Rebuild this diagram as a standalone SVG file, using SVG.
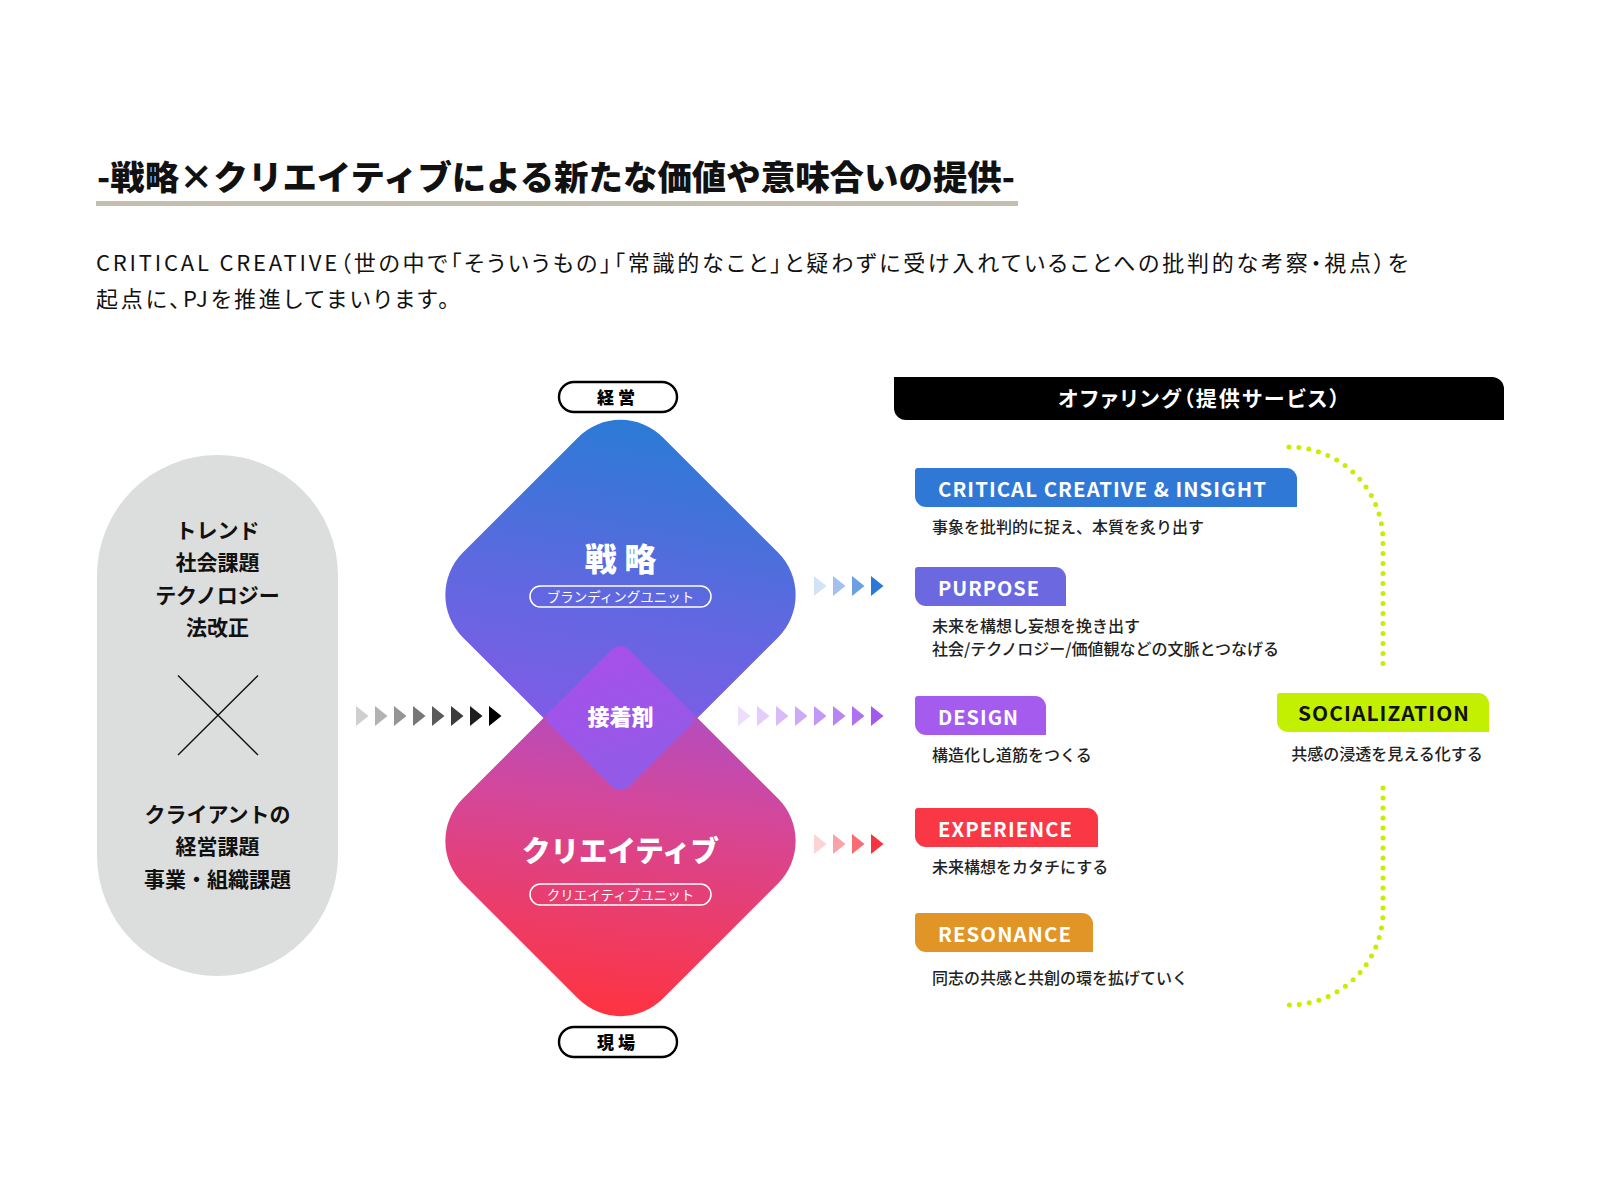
<svg xmlns="http://www.w3.org/2000/svg" width="1600" height="1200" viewBox="0 0 1600 1200">
<defs>
<style>
text{font-family:"Noto Sans CJK JP","Noto Sans",sans-serif;}
.b{font-weight:700;}
.blk{font-weight:900;}
.palt{font-feature-settings:"palt" 1;}
.pill{fill:#fff;stroke:#000;stroke-width:2.4;}
.upill{fill:none;stroke:#fff;stroke-width:1.5;}
.tagt{font-weight:700;font-size:20px;fill:#fff;letter-spacing:1px;}
.desc{font-size:16px;font-weight:500;fill:#222;}
.left{font-size:21px;font-weight:700;fill:#111;text-anchor:middle;}
.dot{fill:none;stroke:#c6ef00;stroke-width:5;stroke-linecap:round;stroke-dasharray:0 10;}
</style>
<linearGradient id="gTop" x1="0.58" y1="0" x2="0.4" y2="1">
<stop offset="0" stop-color="#2a7bd5"/>
<stop offset="0.5" stop-color="#5f68e0"/>
<stop offset="1" stop-color="#8a58e8"/>
</linearGradient>
<linearGradient id="gBot" x1="0.55" y1="0" x2="0.45" y2="1">
<stop offset="0" stop-color="#a64fce"/>
<stop offset="0.4" stop-color="#d4479a"/>
<stop offset="1" stop-color="#ff3340"/>
</linearGradient>
<linearGradient id="gMid" x1="0.3" y1="0" x2="0.7" y2="1">
<stop offset="0" stop-color="#a84fea"/>
<stop offset="1" stop-color="#8f5ce6"/>
</linearGradient>
<path id="tri" d="M0,-10 L12.5,0 L0,10 Z"/>
</defs>
<rect width="1600" height="1200" fill="#fff"/>

<g id="title">
<text x="97" y="189.5" font-size="34" class="blk" fill="#111" textLength="918" lengthAdjust="spacingAndGlyphs">-戦略×クリエイティブによる新たな価値や意味合いの提供-</text>
<rect x="96" y="201" width="922" height="5" fill="#c5bdae"/>
</g>

<g id="intro" fill="#111" font-size="22" class="palt">
<text x="96" y="271" textLength="1312" lengthAdjust="spacing">CRITICAL CREATIVE（世の中で「そういうもの」「常識的なこと」と疑わずに受け入れていることへの批判的な考察・視点）を</text>
<text x="96" y="307" textLength="353" lengthAdjust="spacing">起点に、PJを推進してまいります。</text>
</g>

<g id="context">
<rect x="97" y="455" width="241" height="521" rx="120.5" fill="#dcdddd"/>
<text class="left" x="217.5" y="538">トレンド</text>
<text class="left" x="217.5" y="570">社会課題</text>
<text class="left" x="217.5" y="603">テクノロジー</text>
<text class="left" x="217.5" y="635">法改正</text>
<path d="M178,675.5 L258,755 M258,675.5 L178,755" stroke="#111" stroke-width="1.4" fill="none"/>
<text class="left" x="217.5" y="822">クライアントの</text>
<text class="left" x="217.5" y="854">経営課題</text>
<text class="left" x="217.5" y="887">事業・組織課題</text>
</g>

<g id="label-keiei">
<rect class="pill" x="559" y="382" width="118" height="30" rx="15"/>
<text x="618" y="403.5" font-size="17" class="blk" text-anchor="middle" fill="#000" letter-spacing="4">経営</text>
</g>

<g id="diamond-senryaku">
<path d="M578.07,437.43 A60,60 0 0 1 662.93,437.43 L778.07,552.57 A60,60 0 0 1 778.07,637.43 L662.93,752.57 A60,60 0 0 1 578.07,752.57 L462.93,637.43 A60,60 0 0 1 462.93,552.57 Z" fill="url(#gTop)"/>
<text x="620.5" y="571" font-size="32" class="blk" fill="#fff" text-anchor="middle">戦 略</text>
<rect class="upill" x="530" y="586" width="181" height="21" rx="10.5"/>
<text x="620.5" y="601.5" font-size="13.5" fill="#fff" text-anchor="middle">ブランディングユニット</text>
</g>

<g id="diamond-creative">
<path d="M578.07,683.43 A60,60 0 0 1 662.93,683.43 L778.07,798.57 A60,60 0 0 1 778.07,883.43 L662.93,998.57 A60,60 0 0 1 578.07,998.57 L462.93,883.43 A60,60 0 0 1 462.93,798.57 Z" fill="url(#gBot)"/>
<text x="620.5" y="862" font-size="29" class="blk" fill="#fff" text-anchor="middle" textLength="197" lengthAdjust="spacingAndGlyphs">クリエイティブ</text>
<rect class="upill" x="530" y="884" width="181" height="21" rx="10.5"/>
<text x="620.5" y="899.5" font-size="13.5" fill="#fff" text-anchor="middle">クリエイティブユニット</text>
</g>

<g id="diamond-glue">
<path d="M612.01,649.49 A12,12 0 0 1 628.99,649.49 L692,712.5 A8,8 0 0 1 692,723.5 L628.99,786.51 A12,12 0 0 1 612.01,786.51 L549,723.5 A8,8 0 0 1 549,712.5 Z" fill="url(#gMid)"/>
<text x="620.5" y="725" font-size="22" class="blk" fill="#fff" text-anchor="middle">接着剤</text>
</g>

<g id="label-genba">
<rect class="pill" x="559" y="1027" width="118" height="30" rx="15"/>
<text x="618" y="1048.5" font-size="17" class="blk" text-anchor="middle" fill="#000" letter-spacing="4">現場</text>
</g>

<g id="connectors">
<g id="arrows-gray">
<use href="#tri" x="356" y="716" fill="#cfcfcf"/>
<use href="#tri" x="375" y="716" fill="#b2b2b2"/>
<use href="#tri" x="394" y="716" fill="#959595"/>
<use href="#tri" x="413" y="716" fill="#777777"/>
<use href="#tri" x="432" y="716" fill="#5a5a5a"/>
<use href="#tri" x="451" y="716" fill="#3c3c3c"/>
<use href="#tri" x="470" y="716" fill="#1e1e1e"/>
<use href="#tri" x="489" y="716" fill="#000000"/>
</g>
<g id="arrows-blue">
<use href="#tri" x="814" y="586" fill="#d3e3f6"/>
<use href="#tri" x="833" y="586" fill="#a0c2ec"/>
<use href="#tri" x="852" y="586" fill="#6aa0e1"/>
<use href="#tri" x="871" y="586" fill="#2b78d6"/>
</g>
<g id="arrows-purple">
<use href="#tri" x="738" y="716" fill="#eddefc"/>
<use href="#tri" x="757" y="716" fill="#e3cdfa"/>
<use href="#tri" x="776" y="716" fill="#d8bbf8"/>
<use href="#tri" x="795" y="716" fill="#cea9f6"/>
<use href="#tri" x="814" y="716" fill="#c397f4"/>
<use href="#tri" x="833" y="716" fill="#b985f2"/>
<use href="#tri" x="852" y="716" fill="#ae72f0"/>
<use href="#tri" x="871" y="716" fill="#a458ee"/>
</g>
<g id="arrows-red">
<use href="#tri" x="814" y="844" fill="#fdd3d5"/>
<use href="#tri" x="833" y="844" fill="#fca1a6"/>
<use href="#tri" x="852" y="844" fill="#fb6b72"/>
<use href="#tri" x="871" y="844" fill="#f9323f"/>
</g>
<path class="dot" d="M1289,447 A94,94 0 0 1 1383,541 L1383,665"/>
<path class="dot" d="M1383,788 L1383,911 A94,94 0 0 1 1289,1005"/>
</g>

<g id="offering-header">
<path d="M894,377 L1492,377 A12,12 0 0 1 1504,389 L1504,420 L906,420 A12,12 0 0 1 894,408 Z" fill="#000"/>
<text x="1058" y="406" font-size="21" class="b palt" fill="#fff" textLength="282" lengthAdjust="spacing">オファリング（提供サービス）</text>
</g>

<g id="offer-insight">
<path d="M918,468 L1286,468 A11,11 0 0 1 1297,479 L1297,507 L926,507 A11,11 0 0 1 915,496 L915,471 A3,3 0 0 1 918,468 Z" fill="#2f78d6"/>
<text class="tagt" x="938" y="496.5" textLength="329" lengthAdjust="spacingAndGlyphs">CRITICAL CREATIVE &amp; INSIGHT</text>
<text class="desc" x="932" y="533">事象を批判的に捉え、本質を炙り出す</text>
</g>

<g id="offer-purpose">
<path d="M918,567 L1055,567 A11,11 0 0 1 1066,578 L1066,606 L926,606 A11,11 0 0 1 915,595 L915,570 A3,3 0 0 1 918,567 Z" fill="#6b68e0"/>
<text class="tagt" x="938" y="595.5" textLength="102" lengthAdjust="spacingAndGlyphs">PURPOSE</text>
<text class="desc" x="932" y="631.5">未来を構想し妄想を挽き出す</text>
<text class="desc" x="932" y="655">社会/テクノロジー/価値観などの文脈とつなげる</text>
</g>

<g id="offer-design">
<path d="M918,696 L1035,696 A11,11 0 0 1 1046,707 L1046,735 L926,735 A11,11 0 0 1 915,724 L915,699 A3,3 0 0 1 918,696 Z" fill="#a55bee"/>
<text class="tagt" x="938" y="724.5" textLength="81" lengthAdjust="spacingAndGlyphs">DESIGN</text>
<text class="desc" x="932" y="761">構造化し道筋をつくる</text>
</g>

<g id="offer-experience">
<path d="M918,808 L1087,808 A11,11 0 0 1 1098,819 L1098,847 L926,847 A11,11 0 0 1 915,836 L915,811 A3,3 0 0 1 918,808 Z" fill="#fa3744"/>
<text class="tagt" x="938" y="836.5" textLength="135" lengthAdjust="spacingAndGlyphs">EXPERIENCE</text>
<text class="desc" x="932" y="873">未来構想をカタチにする</text>
</g>

<g id="offer-resonance">
<path d="M918,913 L1082,913 A11,11 0 0 1 1093,924 L1093,952 L926,952 A11,11 0 0 1 915,941 L915,916 A3,3 0 0 1 918,913 Z" fill="#e09526"/>
<text class="tagt" x="938" y="941.5" textLength="134" lengthAdjust="spacingAndGlyphs">RESONANCE</text>
<text class="desc" x="932" y="983.5">同志の共感と共創の環を拡げていく</text>
</g>

<g id="offer-socialization">
<path d="M1280,693 L1478,693 A11,11 0 0 1 1489,704 L1489,732 L1288,732 A11,11 0 0 1 1277,721 L1277,696 A3,3 0 0 1 1280,693 Z" fill="#c2f000"/>
<text class="tagt" x="1298" y="721" style="fill:#111" textLength="172" lengthAdjust="spacingAndGlyphs">SOCIALIZATION</text>
<text class="desc" x="1387" y="760" text-anchor="middle">共感の浸透を見える化する</text>
</g>
</svg>
